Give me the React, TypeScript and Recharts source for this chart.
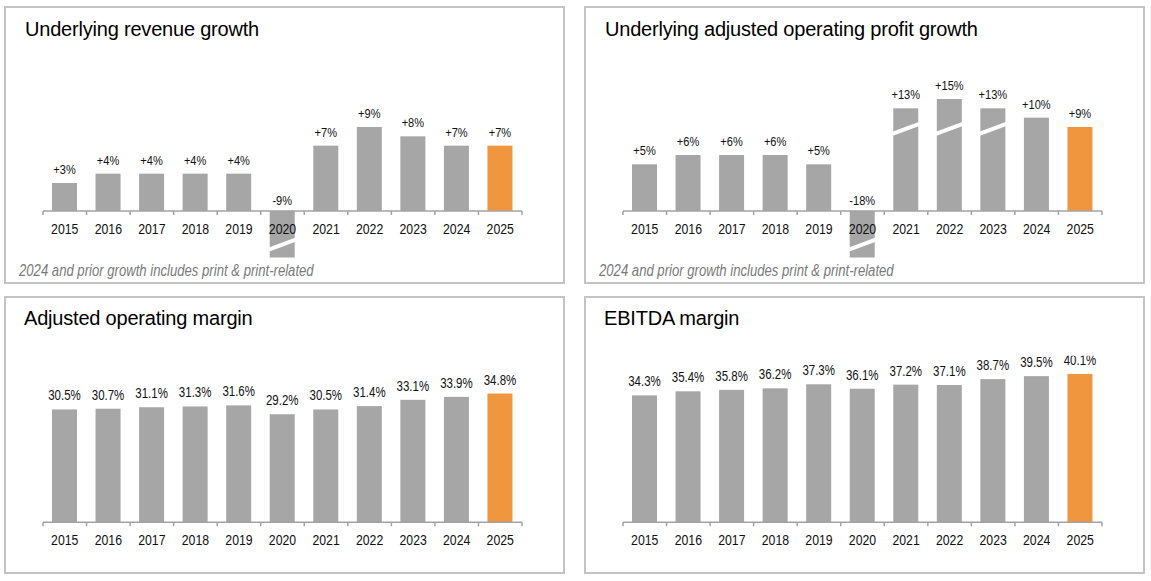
import { Bar, BarChart, Cell, ReferenceLine, XAxis, YAxis } from "recharts";

const years = ["2015", "2016", "2017", "2018", "2019", "2020", "2021", "2022", "2023", "2024", "2025"];

// growth in %, with the amount (in %) cut out at the axis break for bars that run off the scale
const revenueGrowth = [3, 4, 4, 4, 4, -9, 7, 9, 8, 7, 7];
const revenueBreak = [0, 0, 0, 0, 0, 4, 0, 0, 0, 0, 0];
const profitGrowth = [5, 6, 6, 6, 5, -18, 13, 15, 13, 10, 9];
const profitBreak = [0, 0, 0, 0, 0, 13, 2, 3, 2, 0, 0];

const operatingMargin = [30.5, 30.7, 31.1, 31.3, 31.6, 29.2, 30.5, 31.4, 33.1, 33.9, 34.8];
const ebitdaMargin = [34.3, 35.4, 35.8, 36.2, 37.3, 36.1, 37.2, 37.1, 38.7, 39.5, 40.1];

const growthNote = "2024 and prior growth includes print & print-related";

const GRAY = "#a6a6a6";
const ORANGE = "#f0963f";
const AXIS = "#a3a3a3";
const SANS = "'Liberation Sans', Arial, sans-serif";
// no narrow face installed: squeeze the regular one instead
const NARROW_X = 0.82;

const PANEL_W = 561;
const PANEL_H = 278;
const CHART_W = 557;
const CHART_H = 274;

// where the break slash sits, in % from the zero line
const SLASH_UP = 8.8;
const SLASH_DOWN = 3.6;

type Row = { year: string; value: number; cut: number };

const fmtGrowth = (v: number) => (v > 0 ? "+" : "") + v + "%";
const fmtMargin = (v: number) => v.toFixed(1) + "%";

function NarrowText({ x, y, size, children }: { x: number; y: number; size: number; children: string }) {
  return (
    <g transform={`translate(${x},${y}) scale(${NARROW_X},1)`}>
      <text x={0} y={0} textAnchor="middle" fontFamily={SANS} fontSize={size} fill="#111">
        {children}
      </text>
    </g>
  );
}

function BrokenBar(props: any) {
  const { x, y, width, height, fill, payload, format, labelSize } = props;
  const v: number = payload.value;
  const cut: number = payload.cut;
  const base = y + height;
  const unit = v !== 0 ? Math.abs(height) / Math.abs(v) : 0;
  const end = v !== 0 ? y + (height * cut) / Math.abs(v) : y;
  const top = Math.min(end, base);
  const h = Math.abs(base - end);

  let slash = null;
  if (cut > 0) {
    const yc = v > 0 ? base - SLASH_UP * unit : base + SLASH_DOWN * unit;
    slash = <line x1={x - 1} y1={yc + 5} x2={x + width + 1} y2={yc - 5} stroke="#fff" strokeWidth={4} />;
  }

  return (
    <g>
      <rect x={x} y={top} width={width} height={h} fill={fill} />
      {slash}
      <NarrowText x={x + width / 2} y={v >= 0 ? top - 9 : base - 6} size={labelSize}>
        {format(v)}
      </NarrowText>
    </g>
  );
}

function YearAxis(props: any) {
  const { x1, x2, y1 } = props;
  const band = (x2 - x1) / years.length;
  return (
    <g>
      <line x1={x1} x2={x2} y1={y1} y2={y1} stroke={AXIS} strokeWidth={1.5} />
      {Array.from({ length: years.length + 1 }, (_, i) => (
        <line key={i} x1={x1 + i * band} x2={x1 + i * band} y1={y1} y2={y1 + 4} stroke={AXIS} strokeWidth={1.5} />
      ))}
      {years.map((yr, i) => (
        <NarrowText key={yr} x={x1 + (i + 0.5) * band} y={y1 + 23} size={15}>
          {yr}
        </NarrowText>
      ))}
    </g>
  );
}

type PanelProps = {
  left: number;
  top: number;
  title: string;
  values: number[];
  breaks?: number[];
  kind: "growth" | "margin";
  note?: string;
};

function Panel({ left, top, title, values, breaks, kind, note }: PanelProps) {
  const rows: Row[] = years.map((year, i) => ({
    year,
    value: values[i],
    cut: breaks ? breaks[i] : 0,
  }));
  const growth = kind === "growth";
  const margin = growth
    ? { top: 53.67, right: 41, bottom: 24.33, left: 37 }
    : { top: 57.8, right: 41, bottom: 49.7, left: 37 };
  const domain: [number, number] = growth ? [-5, 16] : [0, 45];
  const format = growth ? fmtGrowth : fmtMargin;
  const labelSize = growth ? 13.5 : 14;

  return (
    <div
      style={{
        position: "absolute",
        left,
        top,
        width: PANEL_W,
        height: PANEL_H,
        boxSizing: "border-box",
        border: "2px solid #c4c4c4",
        background: "#fff",
      }}
    >
      <div style={{ position: "absolute", left: 0, top: 0 }}>
        <BarChart width={CHART_W} height={CHART_H} data={rows} margin={margin}>
          <XAxis dataKey="year" hide />
          <YAxis domain={domain} allowDataOverflow hide />
          <Bar
            dataKey="value"
            barSize={25}
            isAnimationActive={false}
            shape={(p: any) => <BrokenBar {...p} format={format} labelSize={labelSize} />}
          >
            {rows.map((r, i) => (
              <Cell key={r.year} fill={i === rows.length - 1 ? ORANGE : GRAY} />
            ))}
          </Bar>
          <ReferenceLine y={0} shape={(p: any) => <YearAxis {...p} />} />
        </BarChart>
      </div>
      <div
        style={{
          position: "absolute",
          left: growth ? 19 : 18,
          top: growth ? 11 : 10,
          fontFamily: SANS,
          fontSize: 20,
          lineHeight: "20px",
          letterSpacing: -0.2,
          color: "#000",
          whiteSpace: "nowrap",
        }}
      >
        {title}
      </div>
      {note && (
        <div
          style={{
            position: "absolute",
            left: 13,
            top: 255,
            fontFamily: SANS,
            fontStyle: "italic",
            fontSize: 16,
            lineHeight: "16px",
            color: "#7a7a7a",
            whiteSpace: "nowrap",
            transform: `scaleX(${NARROW_X})`,
            transformOrigin: "0 0",
          }}
        >
          {note}
        </div>
      )}
    </div>
  );
}

export default function App() {
  return (
    <div style={{ position: "absolute", left: 0, top: 0, width: 1151, height: 581, background: "#fff" }}>
      <Panel
        left={4}
        top={6}
        title="Underlying revenue growth"
        values={revenueGrowth}
        breaks={revenueBreak}
        kind="growth"
        note={growthNote}
      />
      <Panel
        left={584}
        top={6}
        title="Underlying adjusted operating profit growth"
        values={profitGrowth}
        breaks={profitBreak}
        kind="growth"
        note={growthNote}
      />
      <Panel left={4} top={296} title="Adjusted operating margin" values={operatingMargin} kind="margin" />
      <Panel left={584} top={296} title="EBITDA margin" values={ebitdaMargin} kind="margin" />
    </div>
  );
}
